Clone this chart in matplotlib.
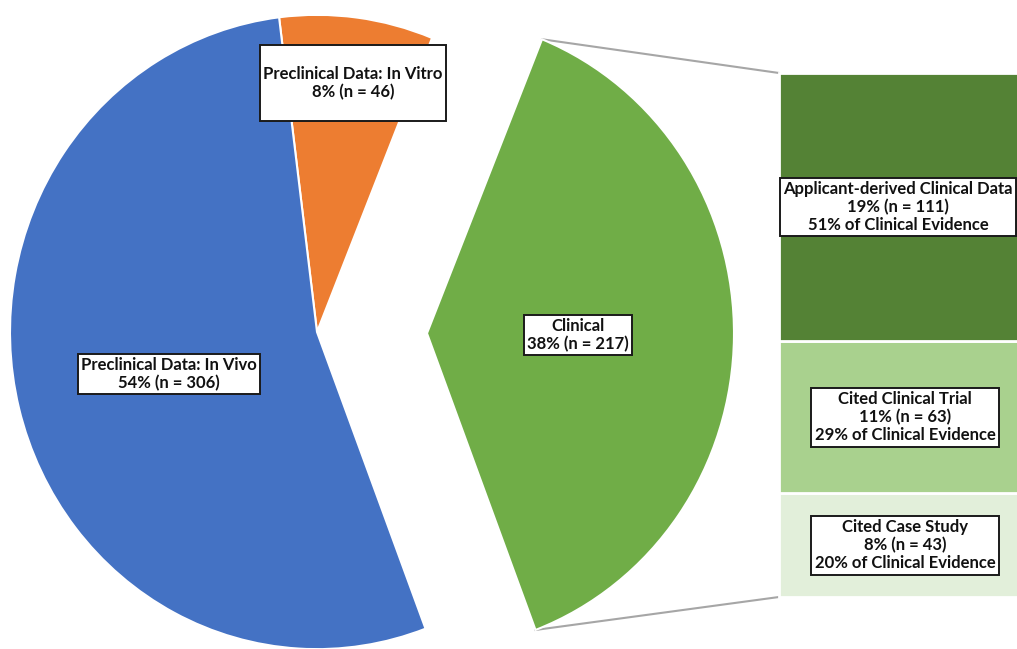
import matplotlib
matplotlib.use("Agg")
import matplotlib.pyplot as plt
import numpy as np

# ---- data ----
pie_labels = ["Clinical", "Preclinical Data: In Vitro", "Preclinical Data: In Vivo"]
pie_values = [217, 46, 306]
pie_pcts = ["38%", "8%", "54%"]

bar_labels = ["Cited Case Study", "Cited Clinical Trial", "Applicant-derived Clinical Data"]
bar_values = [43, 63, 111]
bar_pcts = ["8%", "11%", "19%"]
bar_clin_pcts = ["20%", "29%", "51%"]

pie_colors = ["#70AD47", "#ED7D31", "#4472C4"]
bar_colors = ["#E2EFDA", "#A9D18E", "#548235"]

W, H = 1017, 649
SY = 1.033  # slight vertical stretch as in the reference

def py(ypx):
    return (H - ypx) / SY

fig = plt.figure(figsize=(W / 100, H / 100), dpi=100)
ax = fig.add_axes([0, 0, 1, 1])

plt.rcParams['font.family'] = ['Lato', 'DejaVu Sans']
FS = 12

R = 307
C = (317, py(332))
wedges, _ = ax.pie(pie_values, colors=pie_colors, startangle=-69.3, radius=R,
                   center=C, explode=[110, 0, 0], frame=True,
                   wedgeprops=dict(edgecolor="white", linewidth=1.5))

# stacked bar
bar_bot = py(597)
scale = (py(73) - py(597)) / sum(bar_values)
bar_x = 907
bar_w = 256
bottom = bar_bot
bar_segs = []
for v, col in zip(bar_values, bar_colors):
    h = v * scale
    ax.bar(bar_x, h, bottom=bottom, width=bar_w, color=col, edgecolor="white",
           linewidth=2)
    bar_segs.append((bottom, h))
    bottom += h
bar_top = bottom
bar_left = bar_x - bar_w / 2

# connector lines
g = wedges[0]
gc = g.center
t1, t2 = np.deg2rad(g.theta1), np.deg2rad(g.theta2)
p_top = (gc[0] + g.r * np.cos(t2), gc[1] + g.r * np.sin(t2))
p_bot = (gc[0] + g.r * np.cos(t1), gc[1] + g.r * np.sin(t1))
ax.plot([p_top[0], bar_left], [p_top[1], bar_top], color="#A6A6A6", lw=1.5, zorder=0.5)
ax.plot([p_bot[0], bar_left], [p_bot[1], bar_bot], color="#A6A6A6", lw=1.5, zorder=0.5)

box = dict(boxstyle="square,pad=0.2", fc="white", ec="#1a1a1a", lw=1.4)

def lab(x, y, s):
    ax.text(x, y, s, ha="center", va="center", fontsize=FS, fontweight="bold",
            color="#111111", bbox=box, linespacing=1.15, zorder=5)

lab(578, py(335), f"{pie_labels[0]}\n{pie_pcts[0]} (n = {pie_values[0]})")
lab(353, py(83), f"\n{pie_labels[1]}\n{pie_pcts[1]} (n = {pie_values[1]})\n")
lab(169, py(374), f"{pie_labels[2]}\n{pie_pcts[2]} (n = {pie_values[2]})")

label_x = [bar_x - 2, bar_x - 2, bar_x - 9]
for lx, (b, h), name, v, p, cp in zip(label_x, bar_segs, bar_labels, bar_values,
                                      bar_pcts, bar_clin_pcts):
    lab(lx, b + h / 2, f"{name}\n{p} (n = {v})\n{cp} of Clinical Evidence")

ax.set_xlim(0, W)
ax.set_ylim(0, H / SY)
ax.set_aspect("auto")
ax.axis("off")

fig.savefig("out.png", dpi=100)
